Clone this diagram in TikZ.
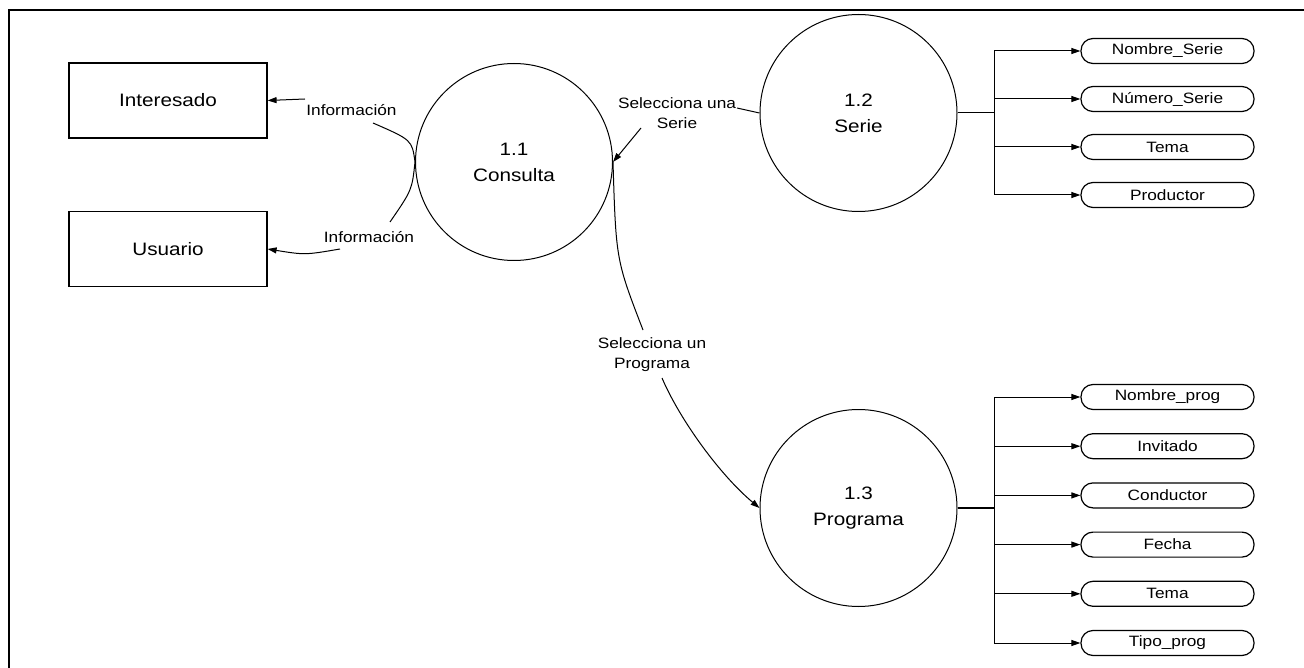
\documentclass[tikz,border=0pt]{standalone}
\usepackage{fontspec}
\setmainfont{Liberation Sans}[FakeStretch=1.15]
\usetikzlibrary{arrows.meta}
\begin{document}
\begin{tikzpicture}[x=1pt,y=-1pt,
  every node/.style={inner sep=0pt},
  entity/.style={draw,line width=1.2pt,minimum width=198pt,minimum height=75pt,
    font=\fontsize{18}{22}\selectfont},
  proc/.style={draw,circle,line width=1pt,minimum size=197pt,align=center,
    font=\fontsize{18}{26}\selectfont},
  attr/.style={draw,line width=1.2pt,rounded corners=12pt,minimum width=173pt,
    minimum height=25pt,font=\fontsize{15}{18}\selectfont},
  flowlabel/.style={align=center,font=\fontsize{15}{20}\selectfont},
  flow/.style={line width=1pt},
  arr/.style={flow,-{Triangle[length=9pt,width=6pt]}},
]
\useasboundingbox (0,0) rectangle (1304,668);
% page frame
\draw[line width=2pt] (9,668) -- (9,10) -- (1304,10);

% external entities
\node[entity] (interesado) at (168,100.5) {Interesado};
\node[entity] (usuario)    at (168,249)   {Usuario};

% processes
\node[proc] (c11) at (514,162)   {1.1\\Consulta};
\node[proc] (c12) at (858.5,113) {1.2\\Serie};
\node[proc] (c13) at (858.5,508) {1.3\\Programa};

% flow labels
\node[flowlabel] (info1) at (351.5,110) {Información};
\node[flowlabel] (info2) at (369,237)   {Información};
\node[flowlabel] (selS)  at (677,113)   {Selecciona una\\Serie};
\node[flowlabel] (selP)  at (652,355)   {Selecciona un\\Programa};

% connector ends around the labels
\coordinate (i1a) at (373,123);
\coordinate (i1b) at (305,99);
\coordinate (i2a) at (390,222);
\coordinate (i2b) at (340,249);
\coordinate (sOut) at (737,108);
\coordinate (sIn) at (641,128);
\coordinate (pOut) at (643,330);
\coordinate (pIn) at (662,378);

% Información -> Interesado
\draw[flow] (c11.west) .. controls (412,140) .. (i1a);
\draw[arr] (i1b) -- (interesado.east);
% Información -> Usuario
\draw[flow] (c11.west) .. controls (412,190) .. (i2a);
\draw[arr] (i2b) .. controls (305,255) .. (usuario.east);
% Selecciona una Serie
\draw[flow] (c12.west) -- (sOut);
\draw[arr] (sIn) -- (c11.east);
% Selecciona un Programa
\draw[flow] (c11.east) .. controls (616,260) .. (pOut);
\draw[arr] (pIn) .. controls (680,420) and (720,475) .. (c13.west);

% attributes of Serie
\coordinate (t12) at (994,113);
\draw[flow] (c12.east) -- (t12);
\foreach \t [count=\i from 0] in {Nombre\_Serie, Número\_Serie, Tema, Productor} {
  \node[attr] (s\i) at (1167.5,{51+48*\i}) {\t};
  \draw[arr] (t12) |- (s\i.west);
}

% attributes of Programa
\coordinate (t13) at (994,508);
\draw[line width=2pt] (c13.east) -- (t13);
\foreach \t [count=\i from 0] in {Nombre\_prog, Invitado, Conductor, Fecha, Tema, Tipo\_prog} {
  \node[attr] (p\i) at (1167.5,{397+49.2*\i}) {\t};
  \draw[arr] (t13) |- (p\i.west);
}
\end{tikzpicture}
\end{document}
